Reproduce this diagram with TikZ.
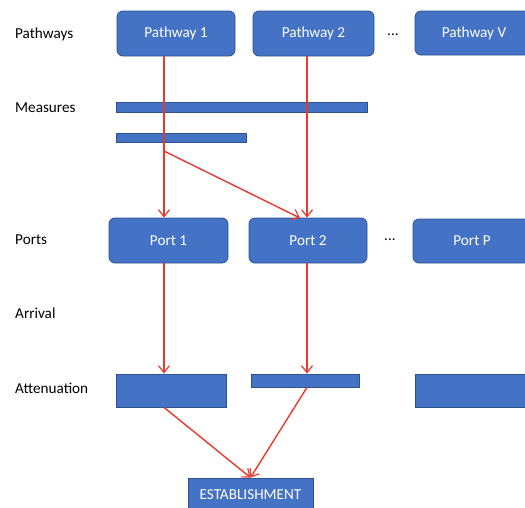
\documentclass[tikz,border=0pt]{standalone}
\usepackage{fontspec}
\setmainfont{Carlito}
\usetikzlibrary{arrows.meta}
\definecolor{boxblue}{HTML}{4472C4}
\definecolor{boxedge}{HTML}{2F528F}
\definecolor{arrred}{HTML}{E8392C}
\begin{document}
\begin{tikzpicture}[x=1pt,y=-1pt,
  every node/.style={font=\fontsize{15.2}{18}\selectfont},
  rbox/.style={draw=boxedge,fill=boxblue,line width=0.8pt,rounded corners=6pt,text=white,inner sep=0pt},
  sbox/.style={draw=boxedge,fill=boxblue,line width=0.8pt,text=white,inner sep=0pt},
  lbl/.style={anchor=west,inner sep=0pt},
  conn/.style={draw=arrred,line width=1.4pt,-{Straight Barb[length=7pt,width=11pt,line width=1.2pt]}}]
\useasboundingbox (0,0) rectangle (525,507);
\clip (0,0) rectangle (525,507);
% row labels
\node[lbl] (lp) at (15,34) {Pathways};
\node[lbl] (lm) at (15,108) {Measures};
\node[lbl] (lpo) at (15,240) {Ports};
\node[lbl] (la) at (15,313) {Arrival};
\node[lbl] (lat) at (15,388) {Attenuation};
% pathways
\node[rbox,minimum width=118pt,minimum height=45pt] (p1) at (176,33.5) {Pathway 1};
\node[rbox,minimum width=121pt,minimum height=45pt] (p2) at (313.5,33.5) {Pathway 2};
\node[inner sep=0pt] (d1) at (393,35) {...};
\node[rbox,minimum width=118pt,minimum height=44pt] (pv) at (474,33) {Pathway V};
% measures
\node[sbox,minimum width=251pt,minimum height=10pt] (m1) at (241.5,107) {};
\node[sbox,minimum width=130pt,minimum height=9pt] (m2) at (181,137.5) {};
% ports
\node[rbox,minimum width=119pt,minimum height=45pt] (po1) at (168.5,240.5) {Port 1};
\node[rbox,minimum width=118pt,minimum height=45pt] (po2) at (308,240.5) {Port 2};
\node[inner sep=0pt] (d2) at (390,240) {...};
\node[rbox,minimum width=118pt,minimum height=44pt] (pop) at (472,241) {Port P};
% attenuation
\node[sbox,minimum width=110pt,minimum height=33pt] (a1) at (171,390.5) {};
\node[sbox,minimum width=108pt,minimum height=13pt] (a2) at (305,380.5) {};
\node[sbox,minimum width=122pt,minimum height=33pt] (a3) at (476,390.5) {};
% establishment
\node[sbox,minimum width=125pt,minimum height=34pt] (est) at (250.5,495) {ESTABLISHMENT};
% connector coordinates
\coordinate (j) at (164,151);
\coordinate (c2) at (307,0);
\coordinate (t2) at (300,218);
% connectors
\draw[conn] (p1.south -| j) -- (po1.north -| j);
\draw[conn] (j) -- (t2);
\draw[conn] (p2.south -| c2) -- (po2.north -| c2);
\draw[conn] (po1.south -| j) -- (a1.north -| j);
\draw[conn] (po2.south -| c2) -- (a2.north -| c2);
\draw[conn] (a1.south -| j) -- (est.north);
\draw[conn] (a2.south -| c2) -- (est.north);
\end{tikzpicture}
\end{document}
